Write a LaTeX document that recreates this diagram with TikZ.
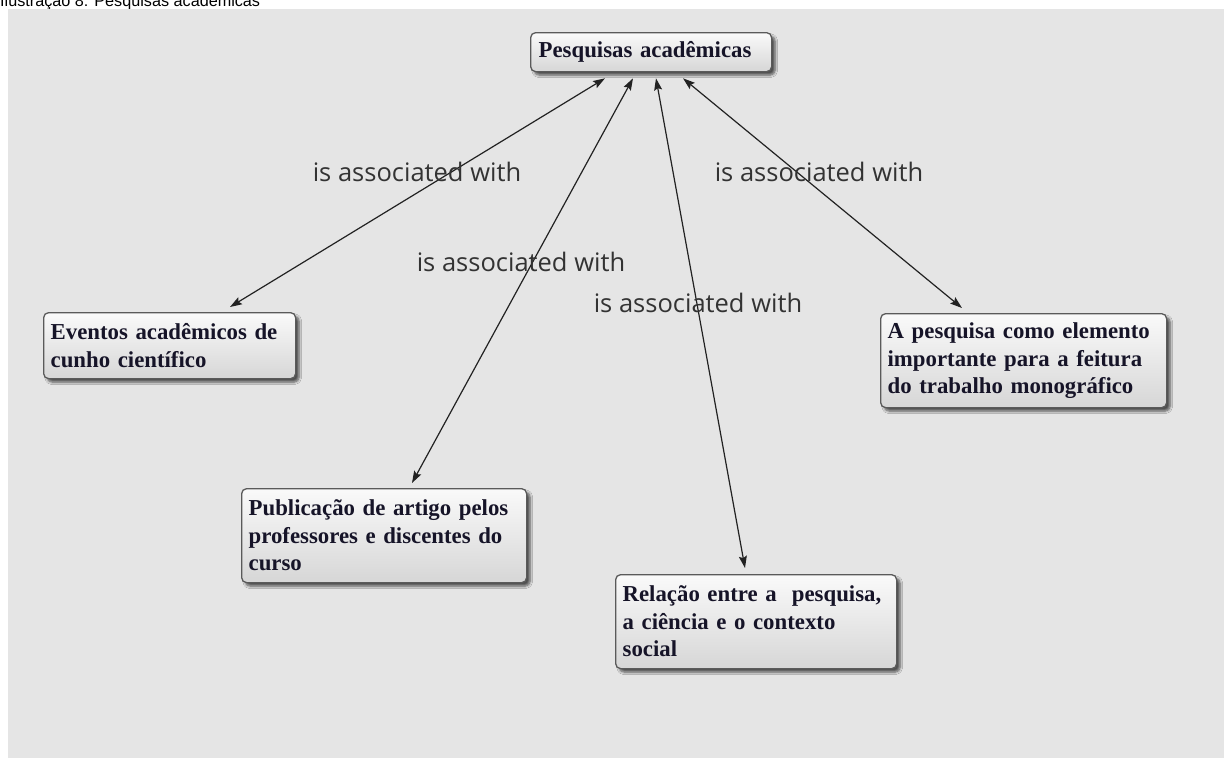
\documentclass[tikz,border=0pt]{standalone}
\usepackage{fontspec}
\setmainfont{Liberation Serif}
\newfontfamily\labelfont{Open Sans}
\newfontfamily\capfont{Liberation Sans}
\usetikzlibrary{arrows.meta,shadows.blur,calc}

\definecolor{bgcol}{HTML}{E5E5E5}
\definecolor{boxtext}{RGB}{22,20,40}
\definecolor{boxline}{HTML}{5A5A5A}
\definecolor{labtext}{HTML}{333333}
\definecolor{linecol}{HTML}{222222}

\tikzset{
  concept/.style={
    anchor=north west, draw=boxline, line width=1.3pt,
    rounded corners=5pt,
    top color=white!96!gray, bottom color=black!16,
    blur shadow={shadow xshift=3.5pt, shadow yshift=-3.5pt,
                 shadow blur radius=2.5pt, shadow blur steps=6,
                 shadow opacity=65},
    inner xsep=7pt, inner ysep=0pt, align=left,
    text=boxtext,
    font=\bfseries\fontsize{22.8}{27.5}\selectfont
  },
  linklabel/.style={
    text=labtext, inner sep=0pt,
    font=\labelfont\fontsize{25.5}{28}\selectfont
  },
  assoc/.style={
    draw=linecol, line width=1.2pt,
    {Stealth[length=12pt,width=8pt,inset=2pt]}-{Stealth[length=12pt,width=8pt,inset=2pt]}
  }
}

\begin{document}
\begin{tikzpicture}[x=1pt,y=-1pt]
  \useasboundingbox (0,0) rectangle (1224,758);

  % caption line, cut by the top edge
  \begin{scope}
    \clip (0,0) rectangle (1224,9);
    \node[anchor=base west, inner sep=0pt,
          font=\capfont\fontsize{16.2}{18}\selectfont] (caption) at (0,6)
      {Ilustração 8: Pesquisas acadêmicas};
  \end{scope}

  % map canvas
  \fill[bgcol] (8,9) rectangle (1224,758);

  % concepts
  \node[concept, text width=225pt, minimum height=39pt, inner xsep=8pt]
    (top) at (530,32) {Pesquisas acadêmicas};
  \node[concept, text width=238pt, minimum height=66pt]
    (eventos) at (43,312) {Eventos acadêmicos de\\cunho científico};
  \node[concept, text width=271pt, minimum height=94pt]
    (publ) at (241,488) {Publicação de artigo pelos\\professores e discentes do\\curso};
  \node[concept, text width=267pt, minimum height=94pt]
    (relacao) at (615,574) {Relação entre a~ pesquisa,\\a ciência e o contexto\\social};
  \node[concept, text width=272pt, minimum height=94pt]
    (apesq) at (880,313) {A pesquisa como elemento\\importante para a feitura\\do trabalho monográfico};

  % links
  \draw[assoc] ($(top.south west)+(75,6)$)  -- ($(eventos.north west)+(187,-5)$);
  \draw[assoc] ($(top.south west)+(103,6)$) -- ($(publ.north west)+(171,-5)$);
  \draw[assoc] ($(top.south west)+(126,6)$) -- ($(relacao.north west)+(130,-6)$);
  \draw[assoc] ($(top.south west)+(153,6)$) -- ($(apesq.north west)+(82,-5)$);

  % link phrases
  \node[linklabel] (lab1) at (417,172) {is associated with};
  \node[linklabel] (lab2) at (521,262) {is associated with};
  \node[linklabel] (lab3) at (698,303) {is associated with};
  \node[linklabel] (lab4) at (819,172) {is associated with};
\end{tikzpicture}
\end{document}
